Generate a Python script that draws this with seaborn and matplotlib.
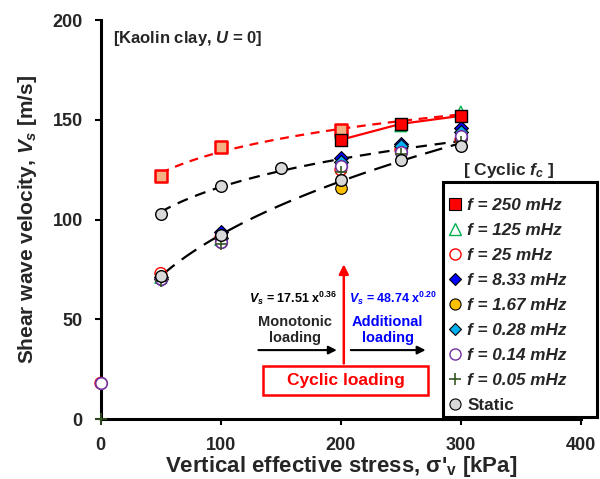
import numpy as np
import pandas as pd
import matplotlib
matplotlib.use("Agg")
import matplotlib.pyplot as plt
from matplotlib.lines import Line2D
from matplotlib.patches import Rectangle
import seaborn as sns

# ---------------- data ----------------
x_mono = [50, 100, 200]
vs_mono_sq = [122, 136.5, 145]          # peach squares (monotonic, upper)

x_250 = [200, 250, 300]
vs_250 = [140, 148, 152]

x_125 = [50, 100, 200, 250, 300]
vs_125 = [71, 90, 143.5, 147, 154]

x_25 = [0, 50, 100, 200, 250, 300]
vs_25 = [18, 73, 91, 125, 135, 140]

x_833 = [50, 100, 200, 250, 300]
vs_833 = [71, 94, 131, 138, 146]

x_167 = [50, 100, 200, 250, 300]
vs_167 = [70, 89, 116, 134, 141]

x_028 = [50, 100, 200, 250, 300]
vs_028 = [70, 91, 129, 137, 144]

x_014 = [0, 50, 100, 200, 250, 300]
vs_014 = [18, 70, 89, 127, 134, 142]

x_005 = [0, 50, 100, 200, 250, 300]
vs_005 = [0, 69, 88, 124, 133, 139]

x_static_lo = [50, 100, 200, 250, 300]
vs_static_lo = [71.5, 92.5, 120, 130, 137]
x_static_up = [50, 100, 150]
vs_static_up = [103, 117, 126]

legend_labels = ["f = 250 mHz", "f = 125 mHz", "f = 25 mHz", "f = 8.33 mHz",
                 "f = 1.67 mHz", "f = 0.28 mHz", "f = 0.14 mHz", "f = 0.05 mHz", "Static"]

# ---------------- style ----------------
sns.set_theme(style="white")
plt.rcParams["font.family"] = ["Liberation Sans", "DejaVu Sans"]
plt.rcParams["font.weight"] = "bold"
plt.rcParams["mathtext.fontset"] = "custom"
plt.rcParams["mathtext.it"] = "Liberation Sans:italic:bold"
plt.rcParams["mathtext.rm"] = "Liberation Sans:bold"
plt.rcParams["mathtext.bf"] = "Liberation Sans:bold"

fig = plt.figure(figsize=(6.0, 4.79), dpi=100)
ax = fig.add_axes([0.168, 0.125, 0.800, 0.833])

def fit_curve(xs, ys, x0, x1):
    b, a = np.polyfit(np.log(xs), np.log(ys), 1)
    xx = np.linspace(x0, x1, 60)
    return pd.DataFrame({"x": xx, "y": np.exp(a) * xx ** b})

# trend curves
c_red = fit_curve(x_mono + [300], vs_mono_sq + [152], 50, 300)
sns.lineplot(data=c_red, x="x", y="y", ax=ax, color="red", lw=1.6, zorder=2).lines[-1].set_dashes([4, 3])
c_up = fit_curve(x_static_up + [300], vs_static_up + [138], 50, 296)
sns.lineplot(data=c_up, x="x", y="y", ax=ax, color="black", lw=1.6, zorder=2).lines[-1].set_dashes([5, 3.5])
c_lo = fit_curve(x_static_lo, vs_static_lo, 50, 300)
sns.lineplot(data=c_lo, x="x", y="y", ax=ax, color="black", lw=1.6, zorder=2).lines[-1].set_dashes([8, 4])
sns.lineplot(x=x_250, y=vs_250, ax=ax, color="red", lw=1.6, zorder=3)

ms = 70
def sc(xs, ys, marker, fc, ec, lw=1.0, z=4, s=ms):
    sns.scatterplot(x=xs, y=ys, ax=ax, marker=marker, s=s, facecolor=fc,
                    edgecolor=ec, linewidth=lw, zorder=z, legend=False, clip_on=False)

sc(x_125, vs_125, "^", "none", "#00B050", 1.0, 4)
sc(x_25, vs_25, "o", "none", "red", 1.0, 4)
sc(x_833, vs_833, "D", "#0000FF", "black", 0.8, 5, 50)
sc(x_167, vs_167, "o", "#FFC000", "black", 0.8, 4)
sc(x_028, vs_028, "D", "#00B0F0", "black", 0.8, 5, 50)
sc(x_014, vs_014, "o", "white", "#7030A0", 1.2, 5)
ax.scatter(x_005, vs_005, marker="+", s=80, color="#375623", linewidths=1.2,
           zorder=5, clip_on=False)
sc(x_static_lo, vs_static_lo, "o", "#D9D9D9", "black", 1.0, 6)
sc(x_static_up, vs_static_up, "o", "#D9D9D9", "black", 1.0, 6)
sc(x_mono, vs_mono_sq, "s", "#F4B183", "red", 1.8, 7)
sc(x_250, vs_250, "s", "red", "black", 1.0, 8)

# ---------------- axes ----------------
ax.set_xlim(0, 400)
ax.set_ylim(0, 200)
ax.set_xticks([0, 100, 200, 300, 400])
ax.set_yticks([0, 50, 100, 150, 200])
ax.tick_params(direction="out", length=4, width=1.5, labelsize=13, pad=9,
               left=True, bottom=True, color="black")
for lab in ax.get_xticklabels() + ax.get_yticklabels():
    lab.set_fontweight("bold")
for side in ["left", "bottom"]:
    ax.spines[side].set_linewidth(2.2)
    ax.spines[side].set_color("black")
for side in ["top", "right"]:
    ax.spines[side].set_visible(False)
ax.set_xlabel("Vertical effective stress, σ'$_\\mathrm{v}$ [kPa]", fontsize=16,
              fontweight="bold", labelpad=0)
ax.set_ylabel("Shear wave velocity, $V_s$ [m/s]", fontsize=15,
              fontweight="bold", labelpad=10)

# ---------------- annotations ----------------
ax.text(10, 191, "[Kaolin clay, $U$ = 0]", fontsize=12, fontweight="bold", va="center")
ax.text(160, 60.5, "$V_s$ = 17.51 x$^{0.36}$", fontsize=9, fontweight="bold",
        ha="center", va="center", color="black")
ax.text(244, 60.5, "$V_s$ = 48.74 x$^{0.20}$", fontsize=9, fontweight="bold",
        ha="center", va="center", color="blue")
ax.text(162, 44.8, "Monotonic\nloading", fontsize=10.5, fontweight="bold",
        ha="center", va="center", linespacing=1.15)
ax.text(239, 44.8, "Additional\nloading", fontsize=10.5, fontweight="bold",
        ha="center", va="center", color="blue", linespacing=1.15)
ax.annotate("", xy=(199, 34.6), xytext=(129, 34.6),
            arrowprops=dict(arrowstyle="-|>", color="black", lw=1.5, mutation_scale=12))
ax.annotate("", xy=(273, 34.6), xytext=(206, 34.6),
            arrowprops=dict(arrowstyle="-|>", color="black", lw=1.5, mutation_scale=12))
ax.annotate("", xy=(202.5, 79), xytext=(202.5, 26.5),
            arrowprops=dict(arrowstyle="-|>", color="red", lw=1.8, mutation_scale=14))
ax.add_patch(Rectangle((135, 12), 138, 14.5, facecolor="white", edgecolor="red",
                       lw=1.8, zorder=9))
ax.text(204, 19.2, "Cyclic loading", fontsize=12.5, fontweight="bold", color="red",
        ha="center", va="center", zorder=10)

# ---------------- legend ----------------
handles = [
    Line2D([], [], ls="none", marker="s", ms=8, mfc="red", mec="black", mew=0.8),
    Line2D([], [], ls="none", marker="^", ms=8, mfc="none", mec="#00B050", mew=1.0),
    Line2D([], [], ls="none", marker="o", ms=8, mfc="none", mec="red", mew=1.0),
    Line2D([], [], ls="none", marker="D", ms=6.5, mfc="#0000FF", mec="black", mew=0.8),
    Line2D([], [], ls="none", marker="o", ms=8, mfc="#FFC000", mec="black", mew=0.8),
    Line2D([], [], ls="none", marker="D", ms=6.5, mfc="#00B0F0", mec="black", mew=0.8),
    Line2D([], [], ls="none", marker="o", ms=8, mfc="white", mec="#7030A0", mew=1.0),
    Line2D([], [], ls="none", marker="+", ms=9, color="#375623", mew=1.2),
    Line2D([], [], ls="none", marker="o", ms=8, mfc="#D9D9D9", mec="black", mew=0.8),
]
# legend frame box (drawn separately, matching the reference box size)
ax.add_patch(Rectangle((443 / 600, 1 - 417 / 479), 154 / 600, 235 / 479,
                       transform=fig.transFigure, facecolor="white", clip_on=False,
                       edgecolor="black", lw=2.2, zorder=15))
leg = ax.legend(handles, legend_labels, loc="upper left",
                bbox_to_anchor=(445 / 600, 1 - 195 / 479), bbox_transform=fig.transFigure,
                frameon=False, borderaxespad=0, handlelength=0.8, handletextpad=0.3,
                labelspacing=0.58, borderpad=0.2, fontsize=12.3)
leg.set_zorder(20)
for t in leg.get_texts()[:-1]:
    t.set_fontstyle("italic")
    t.set_fontweight("bold")
leg.get_texts()[-1].set_fontweight("bold")
fig.text(0.847, 0.645, "[ Cyclic $f_c$ ]", fontsize=12.5, fontweight="bold",
         ha="center", va="center")

fig.savefig("out.png", dpi=100)
